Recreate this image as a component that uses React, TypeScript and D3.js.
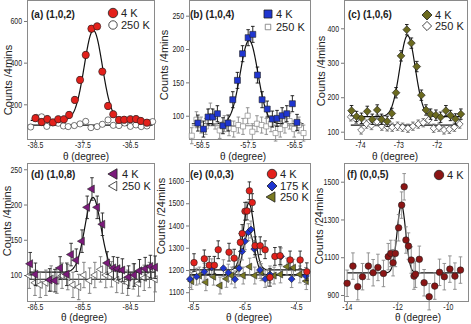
import React, { useEffect, useRef } from 'react';
import * as d3 from 'd3';

const FONT = 'Liberation Sans, Arial, Helvetica, sans-serif';

// (a) (1,0,2)
const aX4K = [-38.49, -38.36, -38.24, -38.12, -38.01, -37.89, -37.78, -37.66, -37.55, -37.43, -37.31, -37.19, -37.08, -36.96, -36.85, -36.73, -36.62, -36.49, -36.37, -36.27, -36.14];
const aY4K = [133, 115, 129, 113, 128, 128, 149, 221, 317, 437, 563, 574, 357, 192, 152, 125, 126, 128, 129, 120, 112];
const aX250K = [-38.59, -38.47, -38.36, -38.25, -38.13, -38.01, -37.9, -37.8, -37.67, -37.55, -37.43, -37.32, -37.19, -37.08, -36.96, -36.85, -36.73, -36.61, -36.49, -36.37, -36.26, -36.14, -36.02];
const aY250K = [91, 137, 140, 94, 112, 109, 96, 93, 98, 106, 118, 88, 93, 104, 125, 99, 98, 110, 94, 101, 93, 96, 117];
const aFit4K = [123, 432, -37.27, 0.19]; // base, amplitude, centre, sigma
const aFit250K = [100];

// (b) (1,0,4)
const bX4K = [-58.57, -58.45, -58.35, -58.25, -58.15, -58.03, -57.92, -57.82, -57.72, -57.61, -57.49, -57.39, -57.29, -57.19, -57.08, -56.97, -56.87, -56.76, -56.66, -56.54, -56.44];
const bY4K = [89, 80, 98, 98, 103, 85, 89, 124, 153, 193, 217, 222, 161, 124, 110, 95, 96, 100, 103, 118, 90];
const bX250K = [-58.7, -58.6, -58.5, -58.4, -58.3, -58.2, -58.1, -58.0, -57.9, -57.8, -57.7, -57.6, -57.5, -57.4, -57.3, -57.2, -57.1, -57.0, -56.9, -56.8, -56.7, -56.6, -56.5, -56.4, -56.3];
const bY250K = [70, 94, 86, 84, 107, 92, 78, 88, 82, 80, 86, 84, 100, 76, 88, 86, 84, 88, 74, 80, 86, 92, 80, 86, 74];
const bFit4K = [88, 125, -57.47, 0.19];
const bFit250K = [85];

// (c) (1,0,6)
const cX4K = [-74.22, -74.09, -73.96, -73.81, -73.68, -73.55, -73.44, -73.29, -73.17, -73.06, -72.93, -72.78, -72.66, -72.52, -72.4, -72.28, -72.16, -72.02, -71.9, -71.76, -71.64, -71.51, -71.37];
const cY4K = [161, 144, 139, 159, 136, 163, 136, 130, 153, 213, 320, 396, 357, 289, 206, 163, 151, 148, 142, 161, 147, 137, 151];
const cX250K = [-74.24, -74.1, -73.97, -73.83, -73.7, -73.56, -73.43, -73.29, -73.16, -73.02, -72.89, -72.75, -72.62, -72.48, -72.35, -72.21, -72.08, -71.94, -71.81, -71.67, -71.54, -71.4];
const cY250K = [143, 136, 105, 122, 118, 129, 116, 114, 113, 116, 113, 110, 116, 122, 126, 134, 110, 113, 105, 107, 113, 122];
const cFit4K = [144, 235, -72.76, 0.2];
const cFit250K = [119];

// (d) (1,0,8)
const dX4K = [-86.6, -86.49, -86.19, -86.08, -85.97, -85.83, -85.74, -85.63, -85.51, -85.4, -85.3, -85.19, -85.08, -84.98, -84.85, -84.76, -84.66, -84.53, -84.41, -84.3, -84.18, -84.07, -83.97];
const dY4K = [116, 101, 93, 92, 110, 101, 129, 121, 148, 196, 222, 196, 172, 117, 110, 109, 107, 97, 100, 106, 109, 112, 111];
const dX250K = [-86.62, -86.5, -86.39, -86.27, -86.16, -86.04, -85.93, -85.81, -85.7, -85.58, -85.47, -85.35, -85.24, -85.12, -85.01, -84.89, -84.78, -84.66, -84.55, -84.43, -84.32, -84.2, -84.09, -83.97];
const dY250K = [99, 89, 86, 89, 95, 92, 99, 97, 86, 83, 100, 92, 100, 108, 100, 101, 93, 92, 89, 98, 88, 96, 100, 94];
const dFit4K = [104, 106, -85.28, 0.17];
const dFit250K = [94];

// (e) (0,0,3)
const eX4K = [-8.46, -8.06, -7.87, -7.67, -7.52, -7.1, -6.9, -6.66, -6.59, -6.48, -6.4, -6.31, -6.2, -6.09, -5.89, -5.7, -5.51, -5.32, -5.12, -4.73, -4.34, -4.08];
const eY4K = [1233, 1250, 1221, 1221, 1291, 1280, 1253, 1324, 1364, 1464, 1465, 1556, 1503, 1309, 1309, 1291, 1167, 1261, 1264, 1245, 1245, 1192];
const eX175K = [-8.62, -8.36, -8.06, -7.77, -7.32, -7.13, -6.87, -6.71, -6.59, -6.48, -6.35, -6.25, -6.12, -5.9, -5.7, -5.51, -5.08, -4.67, -4.12];
const eY175K = [1159, 1170, 1192, 1212, 1208, 1188, 1158, 1208, 1283, 1329, 1370, 1382, 1294, 1200, 1159, 1180, 1261, 1159, 1173];
const eX250K = [-8.55, -8.25, -8.0, -7.7, -7.45, -7.2, -7.0, -6.75, -6.55, -6.3, -6.1, -5.85, -5.6, -5.35, -5.1, -4.85, -4.6, -4.35, -4.1];
const eY250K = [1150, 1175, 1145, 1170, 1130, 1160, 1175, 1210, 1175, 1215, 1175, 1190, 1165, 1175, 1180, 1215, 1210, 1180, 1150];
const eFit4K = [1200, 300, -6.33, 0.21];
const eFit175K = [1178, 195, -6.33, 0.21];
const eFit250K = [1178];

// (f) (0,0,5)
const fX4K = [-13.99, -13.76, -13.57, -13.38, -13.15, -12.96, -12.77, -12.55, -12.36, -12.26, -12.17, -12.08, -11.95, -11.83, -11.73, -11.66, -11.56, -11.45, -11.34, -11.28, -11.13, -10.94, -10.74, -10.52, -10.33, -10.14, -9.92, -9.72, -9.5];
const fY4K = [962, 1053, 944, 997, 1053, 1018, 1046, 1014, 1103, 1120, 1071, 1120, 1256, 1376, 1473, 1191, 1159, 1085, 1000, 1010, 1089, 965, 891, 947, 1020, 997, 1037, 1000, 1032];
const fFit4K = [1017, 360, -11.84, 0.17];

const RED = '#e3201b', BLUE = '#1f35d0', OLIVE = '#6b6a1f', PURPLE = '#7b1a7b', DARKRED = '#8b1515', KHAKI = '#7a7a22';

const panels = [
  {
    box: [27, 0, 155, 140], xDomain: [-38.668, -35.97], yDomain: [28.6, 700.8],
    xTicks: [-38.5, -37.5, -36.5], yTicks: [200, 400, 600],
    title: '(a) (1,0,2)', titlePos: [31, 18], ylabel: 'Counts /4mins', ylabelPos: [8, 80], xlabelPos: [86, 160],
    series: [
      { xs: aX250K, ys: aY250K, err: 10, shape: 'circle', size: 30, fill: '#fff', stroke: '#222', errColor: '#444' },
      { xs: aX4K, ys: aY4K, err: 15, shape: 'circle', size: 42, fill: RED, stroke: '#222', errColor: '#111' },
    ],
    fits: [{ p: aFit250K, color: '#111' }, { p: aFit4K, color: '#111' }],
    legend: [
      { shape: 'circle', size: 70, fill: RED, stroke: '#222', label: '4 K', x: 113, y: 13 },
      { shape: 'circle', size: 56, fill: '#fff', stroke: '#222', label: '250 K', x: 113, y: 25 },
    ],
  },
  {
    box: [189, 0, 311, 140], xDomain: [-58.76, -56.14], yDomain: [63.6, 273.5],
    xTicks: [-58.5, -57.5, -56.5], yTicks: [100, 150, 200, 250],
    title: '(b) (1,0,4)', titlePos: [190, 18], ylabel: 'Counts /4mins', ylabelPos: [164, 65], xlabelPos: [243, 160],
    series: [
      { xs: bX250K, ys: bY250K, err: 12, shape: 'square', size: 26, fill: '#fff', stroke: '#777', errColor: '#888' },
      { xs: bX4K, ys: bY4K, err: 12, shape: 'square', size: 36, fill: BLUE, stroke: '#222', errColor: '#111' },
    ],
    fits: [{ p: bFit250K, color: '#888' }, { p: bFit4K, color: '#111' }],
    legend: [
      { shape: 'square', size: 64, fill: BLUE, stroke: '#222', label: '4 K', x: 268, y: 14 },
      { shape: 'square', size: 30, fill: '#fff', stroke: '#777', label: '250 K', x: 268, y: 27 },
    ],
  },
  {
    box: [344, 0, 468, 140], xDomain: [-74.417, -71.184], yDomain: [75.9, 482.1],
    xTicks: [-74, -73, -72], yTicks: [100, 200, 300, 400],
    title: '(c) (1,0,6)', titlePos: [348, 18], ylabel: 'Counts /4mins', ylabelPos: [321, 71], xlabelPos: [395, 160],
    series: [
      { xs: cX250K, ys: cY250K, err: 12, shape: 'diamond', size: 24, fill: '#fff', stroke: '#222', errColor: '#777' },
      { xs: cX4K, ys: cY4K, err: 15, shape: 'diamond', size: 30, fill: OLIVE, stroke: '#222', errColor: '#111' },
    ],
    fits: [{ p: cFit250K, color: '#111' }, { p: cFit4K, color: '#111' }],
    legend: [
      { shape: 'diamond', size: 50, fill: OLIVE, stroke: '#222', label: '4 K', x: 427, y: 15 },
      { shape: 'diamond', size: 42, fill: '#fff', stroke: '#222', label: '250 K', x: 427, y: 26 },
    ],
  },
  {
    box: [27, 163, 155, 302], xDomain: [-86.668, -83.974], yDomain: [61.7, 258.9],
    xTicks: [-86.5, -85.5, -84.5], yTicks: [100, 150, 200, 250],
    title: '(d) (1,0,8)', titlePos: [31, 178], ylabel: 'Counts /4mins', ylabelPos: [7, 221], xlabelPos: [84, 321],
    series: [
      { xs: dX250K, ys: dY250K, err: 18, shape: 'triLeft', size: 22, fill: '#fff', stroke: '#222', errColor: '#777' },
      { xs: dX4K, ys: dY4K, err: 16, shape: 'triLeft', size: 28, fill: PURPLE, stroke: '#222', errColor: '#222' },
    ],
    fits: [{ p: dFit250K, color: '#111' }, { p: dFit4K, color: '#111' }],
    legend: [
      { shape: 'triLeft', size: 48, fill: PURPLE, stroke: '#222', label: '4 K', x: 114, y: 174 },
      { shape: 'triLeft', size: 40, fill: '#fff', stroke: '#222', label: '250 K', x: 114, y: 186 },
    ],
  },
  {
    box: [189, 163, 311, 302], xDomain: [-8.655, -3.918], yDomain: [1056, 1681],
    xTicks: [-8.5, -6.5, -4.5], yTicks: [1100, 1200, 1300, 1400, 1500, 1600],
    title: '(e) (0,0,3)', titlePos: [190, 178], ylabel: 'Counts /24mins', ylabelPos: [161, 216], xlabelPos: [249, 321],
    series: [
      { xs: eX250K, ys: eY250K, err: 38, shape: 'triLeft', size: 22, fill: KHAKI, stroke: '#222', errColor: '#888' },
      { xs: eX175K, ys: eY175K, err: 38, shape: 'diamond', size: 24, fill: BLUE, stroke: '#222', errColor: '#888' },
      { xs: eX4K, ys: eY4K, err: 40, shape: 'circle', size: 34, fill: RED, stroke: '#222', errColor: '#222' },
    ],
    fits: [{ p: eFit250K, color: '#111' }, { p: eFit175K, color: '#111' }, { p: eFit4K, color: '#111' }],
    legend: [
      { shape: 'circle', size: 70, fill: RED, stroke: '#222', label: '4 K', x: 272, y: 174 },
      { shape: 'diamond', size: 50, fill: BLUE, stroke: '#222', label: '175 K', x: 272, y: 186 },
      { shape: 'triLeft', size: 46, fill: KHAKI, stroke: '#222', label: '250 K', x: 272, y: 197 },
    ],
  },
  {
    box: [344, 163, 469, 302], xDomain: [-14.114, -9.162], yDomain: [862.9, 1599],
    xTicks: [-14, -12, -10], yTicks: [900, 1100, 1300, 1500],
    title: '(f) (0,0,5)', titlePos: [347, 178], ylabel: 'Counts /24mins', ylabelPos: [319, 226], xlabelPos: [418, 321],
    series: [
      { xs: fX4K, ys: fY4K, err: 70, shape: 'circle', size: 34, fill: DARKRED, stroke: '#222', errColor: '#888' },
    ],
    fits: [{ p: fFit4K, color: '#111' }],
    legend: [
      { shape: 'circle', size: 70, fill: DARKRED, stroke: '#222', label: '4 K', x: 439, y: 175 },
    ],
  },
];

function markerPath(shape: string, size: number) {
  if (shape === 'circle') return d3.symbol(d3.symbolCircle, size)();
  if (shape === 'triLeft') return d3.symbol(d3.symbolTriangle, size)();
  return d3.symbol(d3.symbolSquare, size)();
}
function markerRot(shape: string) {
  if (shape === 'diamond') return ' rotate(45)';
  if (shape === 'triLeft') return ' rotate(-90)';
  return '';
}

function drawPanel(svg: any, p: any) {
  const [x0, y0, x1, y1] = p.box;
  const x = d3.scaleLinear().domain(p.xDomain).range([x0, x1]);
  const y = d3.scaleLinear().domain(p.yDomain).range([y1, y0]);
  const g = svg.append('g');

  const xa = g.append('g').attr('transform', `translate(0,${y1})`)
    .call(d3.axisBottom(x).tickValues(p.xTicks).tickSize(2).tickPadding(0).tickFormat((d: any) => String(d)));
  const ya = g.append('g').attr('transform', `translate(${x0},0)`)
    .call(d3.axisLeft(y).tickValues(p.yTicks).tickSize(3).tickPadding(2).tickFormat((d: any) => String(d)));
  [xa, ya].forEach((a: any) => {
    a.select('.domain').remove();
    a.selectAll('line').attr('stroke', '#777');
    a.selectAll('text').attr('font-size', 8.5).attr('font-family', FONT).attr('fill', '#222');
  });
  xa.selectAll('text').attr('transform', 'scale(0.82,1)');
  ya.selectAll('text').attr('x', -5 / 0.82).attr('transform', 'scale(0.82,1)');

  // frame
  g.append('rect')
    .attr('x', x0 + 0.5).attr('y', y0 + 0.5)
    .attr('width', x1 - x0 - 1).attr('height', y1 - y0 - 1)
    .attr('fill', 'none').attr('stroke', '#8a8a8a').attr('stroke-width', 1);

  // fitted curves over the measured range
  const [dx0, dx1] = d3.extent(p.series.flatMap((s: any) => s.xs)) as number[];
  const xsFit = d3.range(dx0, dx1, (dx1 - dx0) / 300).concat([dx1]);
  const line = d3.line<number>().x(v => x(v));
  p.fits.forEach((f: any) => {
    const fy = (v: number) => f.p.length === 1 ? f.p[0] : f.p[0] + f.p[1] * Math.exp(-((v - f.p[2]) ** 2) / (2 * f.p[3] ** 2));
    g.append('path').datum(xsFit)
      .attr('d', line.y(v => y(fy(v))))
      .attr('fill', 'none').attr('stroke', f.color).attr('stroke-width', 1.2);
  });

  // points with error bars
  p.series.forEach((s: any) => {
    const pts = s.xs.map((v: number, i: number) => ({ x: v, y: s.ys[i] }));
    const eb = g.append('g').attr('stroke', s.errColor).attr('stroke-width', 0.9);
    pts.forEach((d: any) => {
      const px = x(d.x), ya1 = y(d.y + s.err), ya2 = y(d.y - s.err);
      eb.append('line').attr('x1', px).attr('x2', px).attr('y1', ya1).attr('y2', ya2);
      eb.append('line').attr('x1', px - 1.8).attr('x2', px + 1.8).attr('y1', ya1).attr('y2', ya1);
      eb.append('line').attr('x1', px - 1.8).attr('x2', px + 1.8).attr('y1', ya2).attr('y2', ya2);
    });
    g.append('g').selectAll('path').data(pts).enter().append('path')
      .attr('d', markerPath(s.shape, s.size))
      .attr('transform', (d: any) => `translate(${x(d.x)},${y(d.y)})${markerRot(s.shape)}`)
      .attr('fill', s.fill).attr('stroke', s.stroke).attr('stroke-width', 0.6);
  });

  // legend
  p.legend.forEach((l: any) => {
    g.append('path').attr('d', markerPath(l.shape, l.size))
      .attr('transform', `translate(${l.x},${l.y})${markerRot(l.shape)}`)
      .attr('fill', l.fill).attr('stroke', l.stroke).attr('stroke-width', 0.8);
    g.append('text').attr('x', l.x + 8).attr('y', l.y + 4)
      .attr('font-family', FONT).attr('font-size', 11).attr('fill', '#222').text(l.label);
  });

  g.append('text').attr('x', p.titlePos[0]).attr('y', p.titlePos[1])
    .attr('font-family', FONT).attr('font-size', 10).attr('font-weight', 'bold').attr('fill', '#222').text(p.title);
  g.append('text').attr('transform', `translate(${p.ylabelPos[0]},${p.ylabelPos[1]}) rotate(-90)`)
    .attr('dy', '0.35em').attr('text-anchor', 'middle')
    .attr('font-family', FONT).attr('font-size', 11).attr('fill', '#222').text(p.ylabel);
  g.append('text').attr('x', p.xlabelPos[0]).attr('y', p.xlabelPos[1]).attr('text-anchor', 'middle')
    .attr('font-family', FONT).attr('font-size', 10).attr('fill', '#222').text('θ (degree)');
}

export default function App() {
  const ref = useRef<SVGSVGElement>(null);
  useEffect(() => {
    const svg = d3.select(ref.current);
    svg.selectAll('*').remove();
    svg.append('rect').attr('width', 471).attr('height', 324).attr('fill', '#fff');
    panels.forEach(p => drawPanel(svg, p));
  }, []);
  return (
    <svg ref={ref} width={471} height={324}
      style={{ position: 'absolute', left: 0, top: 0, display: 'block' }} />
  );
}
